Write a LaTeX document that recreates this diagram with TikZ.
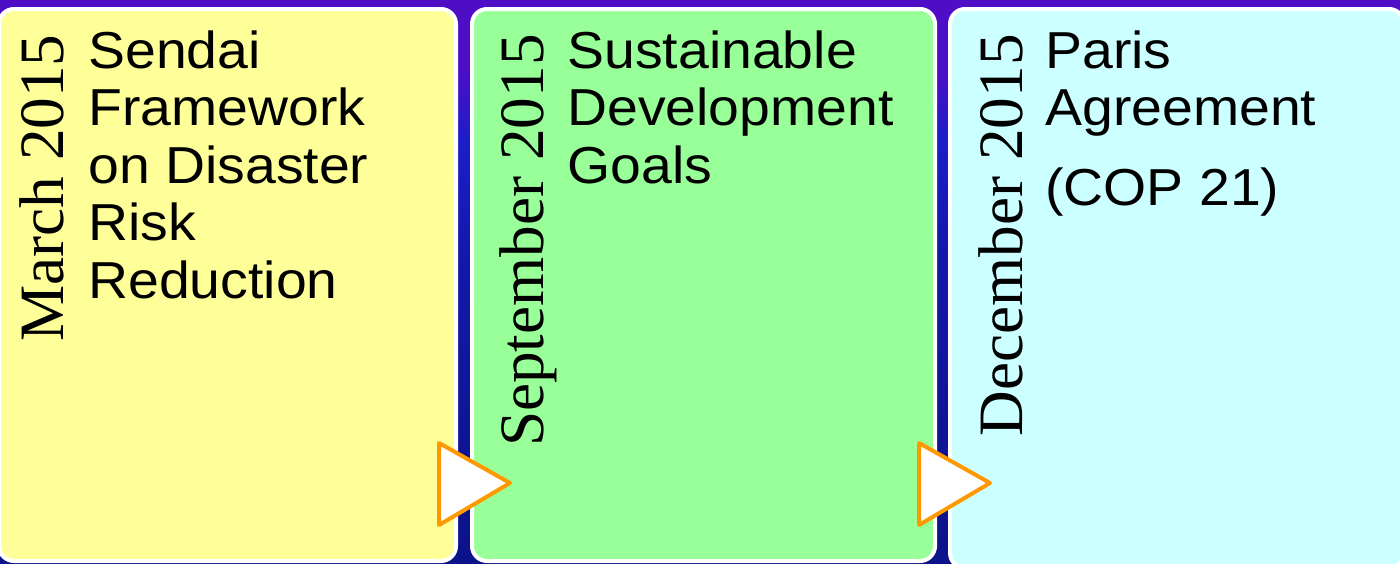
\documentclass[tikz,border=0pt]{standalone}
\usepackage{fontspec}
\setmainfont{Liberation Serif}
\newfontfamily\sansfnt{Liberation Sans}
\definecolor{bgtop}{RGB}{78,14,198}
\definecolor{bgblue}{RGB}{28,30,200}
\definecolor{bgmid}{RGB}{20,24,170}
\definecolor{bgbot}{RGB}{12,18,136}
\definecolor{boxyellow}{RGB}{255,255,153}
\definecolor{boxgreen}{RGB}{153,255,153}
\definecolor{boxcyan}{RGB}{204,255,255}
\definecolor{triorange}{RGB}{255,153,0}
\pgfdeclareverticalshading{bgshade}{100bp}{color(0bp)=(bgbot); color(25bp)=(bgbot); color(52.5bp)=(bgmid); color(62.5bp)=(bgblue); color(69bp)=(bgtop); color(100bp)=(bgtop)}
\begin{document}
\begin{tikzpicture}[x=0.5pt,y=-0.5pt,
  box/.style={draw=white, line width=2pt, rounded corners=7.5pt, rectangle, inner sep=0pt},
  datetext/.style={rotate=90, anchor=base east, inner sep=0pt, font=\fontsize{31.6pt}{36pt}\selectfont},
  bodytext/.style={anchor=base west, inner sep=0pt, xscale=1.065, font=\sansfnt\fontsize{26pt}{28.75pt}\selectfont},
  tri/.style={draw=triorange, fill=white, line width=2pt, line join=round}]
\useasboundingbox (0,0) rectangle (1400,563);
\shade[shading=bgshade] (0,0) rectangle (1400,563);
\node[box, fill=boxyellow, minimum width=228.5pt, minimum height=276pt] (b1) at (227.5,285) {};
\node[box, fill=boxgreen, minimum width=231.5pt, minimum height=276pt] (b2) at (703.5,285) {};
\node[box, fill=boxcyan, minimum width=227pt, minimum height=279.5pt] (b3) at (1177,288.5) {};
\node[datetext] (d1) at (63,34) {March 2015};
\node[datetext] (d2) at (543,34) {September 2015};
\node[datetext] (d3) at (1022,34) {December 2015};
\node[bodytext] (t1) at (88,68) {\begin{tabular}[t]{@{}l@{}}Sendai\\Framework\\on Disaster\\Risk\\Reduction\end{tabular}};
\node[bodytext] (t2) at (567,68) {\begin{tabular}[t]{@{}l@{}}Sustainable\\Development\\Goals\end{tabular}};
\node[bodytext] (t3) at (1045,68) {\begin{tabular}[t]{@{}l@{}}Paris\\Agreement\\[11pt](COP 21)\end{tabular}};
\draw[tri] (439,443) -- (510,483) -- (439,525) -- cycle;
\draw[tri] (919,443) -- (990,483) -- (919,525) -- cycle;
\end{tikzpicture}
\end{document}
